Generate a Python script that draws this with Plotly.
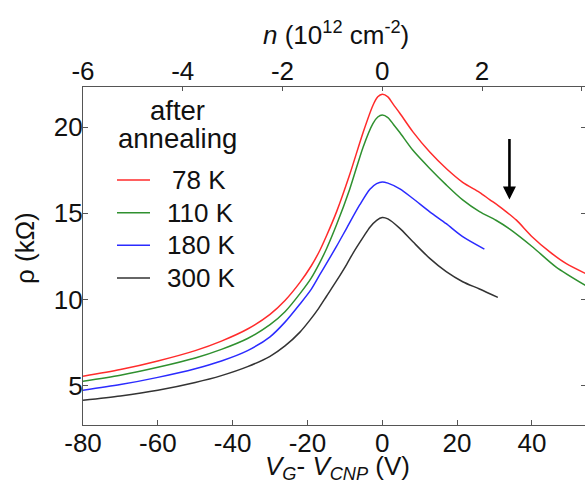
import plotly.graph_objects as go

# ---------------- data ----------------
V_78 = [-80, -70, -60, -50, -43, -36, -30, -26, -22, -19, -16.7, -14.9, -12.2, -8.7, -5.1, -2.5, -1.2, 0,
        1.5, 3, 4.7, 8.2, 12.7, 17.1, 21.5, 26, 28.7, 31, 33, 35.8, 40.2, 44.7, 49.1, 54.5]
R_78 = [5.56, 5.95, 6.45, 7.05, 7.6, 8.3, 9.15, 9.95, 11.0, 11.95, 12.85, 13.7, 15.1, 17.25, 19.7, 21.25, 21.75, 21.9,
        21.75, 21.3, 20.8, 19.72, 18.55, 17.6, 16.8, 16.22, 15.8, 15.45, 15.12, 14.62, 13.62, 12.78, 12.1, 11.5]

V_110 = [-80, -70, -60, -50, -43, -36, -30, -26, -22, -19, -16.7, -14.9, -12.2, -8.7, -5.1, -2.5, -1.2, 0,
         1.5, 3, 4.7, 8.2, 12.7, 17.1, 21.5, 26, 30.4, 34, 40.2, 46.4, 54.5]
R_110 = [5.27, 5.62, 6.08, 6.62, 7.12, 7.75, 8.55, 9.3, 10.35, 11.25, 12.15, 12.95, 14.35, 16.4, 18.85, 20.2, 20.58, 20.7,
         20.55, 20.15, 19.68, 18.65, 17.6, 16.65, 15.78, 15.1, 14.6, 14.1, 13.05, 11.9, 10.8]

V_180 = [-80, -70, -60, -50, -43, -36, -30, -26, -22, -19, -16.7, -14.9, -12.2, -9.5, -6, -3.3, -1.5, 0,
         1.5, 4.7, 8.2, 12.7, 17.1, 21.5, 27.3]
R_180 = [4.75, 5.08, 5.5, 6.0, 6.45, 7.05, 7.85, 8.7, 9.75, 10.6, 11.45, 12.1, 13.1, 14.15, 15.5, 16.4, 16.72, 16.82,
         16.75, 16.42, 15.86, 15.09, 14.4, 13.65, 12.93]

V_300 = [-80, -70, -60, -50, -43, -36, -30, -26, -22, -19.5, -17, -14.9, -12.2, -9.5, -7.8, -5, -3.3, -1.5, 0,
         1.5, 4.7, 8.2, 12.7, 17.1, 21.5, 26, 30.9]
R_300 = [4.17, 4.42, 4.75, 5.2, 5.6, 6.12, 6.72, 7.32, 8.12, 8.77, 9.5, 10.2, 11.1, 12.05, 12.7, 13.65, 14.2, 14.6, 14.76,
         14.68, 14.13, 13.35, 12.39, 11.62, 11.04, 10.62, 10.13]

SERIES_NAMES = ["78 K", "110 K", "180 K", "300 K"]
SERIES_COLORS = ["#ff2b2b", "#2f902f", "#2b2bff", "#333333"]
LEGEND_TITLE = ["after", "annealing"]

X_TICKS = [-80, -60, -40, -20, 0, 20, 40]
X_TICK_TEXT = ["-80", "-60", "-40", "-20", "0", "20", "40"]
N_TICKS = [-6, -4, -2, 0, 2, 4]
N_TICK_TEXT = ["-6", "-4", "-2", "0", "2", "4"]
Y_TICKS = [5, 10, 15, 20]
Y_TICK_TEXT = ["5", "10", "15", "20"]
X_RANGE = [-80, 54.2]
N_PER_V = 6 / 80          # n (1e12 cm^-2) per volt
Y_RANGE = [2.74, 22.32]

X_TITLE = "<i>V</i><sub><i>G</i></sub>- <i>V</i><sub><i>CNP</i></sub> (V)"
N_TITLE = "<i>n</i> (10<sup>12</sup> cm<sup>-2</sup>)"
Y_TITLE = "ρ (kΩ)"

ARROW_V = 34
ARROW_TOP = 19.4
ARROW_TIP = 15.8

FONT = "Arial, Liberation Sans, sans-serif"
AXC = "#555555"
TXT = "#111111"
FS = 26

# plot-area geometry (pixels) used to place the hand-made legend / titles
W, H = 585, 483
ML, MR, MT, MB = 83, 0, 87, 58
PW, PH = W - ML - MR, H - MT - MB


def px_x(px):
    return (px - ML) / PW


def px_y(py):
    return (H - MB - py) / PH


fig = go.Figure()
for V, R, name, col in zip([V_78, V_110, V_180, V_300], [R_78, R_110, R_180, R_300],
                           SERIES_NAMES, SERIES_COLORS):
    fig.add_trace(go.Scatter(x=V, y=R, mode="lines", name=name, showlegend=False,
                             line=dict(color=col, width=1.5, shape="spline", smoothing=0.8)))

# helper traces so the top / right axes exist
fig.add_trace(go.Scatter(x=[N_TICKS[0], N_TICKS[-1]], y=[None, None], xaxis="x2", yaxis="y",
                         showlegend=False, hoverinfo="skip"))
fig.add_trace(go.Scatter(x=[None], y=[None], xaxis="x", yaxis="y2",
                         showlegend=False, hoverinfo="skip"))

# arrow marking the shoulder
fig.add_annotation(x=ARROW_V, y=ARROW_TIP, ax=ARROW_V, ay=ARROW_TOP, xref="x", yref="y",
                   axref="x", ayref="y", showarrow=True, arrowhead=2, arrowwidth=2.6,
                   arrowsize=1.0, arrowcolor="#000000", text="")

# legend (title + entries)
fig.add_annotation(x=px_x(177), y=px_y(110), xref="paper", yref="paper", text=LEGEND_TITLE[0],
                   showarrow=False, font=dict(size=27.5, color=TXT, family=FONT),
                   xanchor="center", yanchor="middle")
fig.add_annotation(x=px_x(177), y=px_y(138), xref="paper", yref="paper", text=LEGEND_TITLE[1],
                   showarrow=False, font=dict(size=27.5, color=TXT, family=FONT),
                   xanchor="center", yanchor="middle")
row_y = [180, 212.7, 245.3, 278]
text_x = [170, 165, 165, 165]
for name, col, ry, tx in zip(SERIES_NAMES, SERIES_COLORS, row_y, text_x):
    fig.add_shape(type="line", xref="paper", yref="paper", x0=px_x(117), x1=px_x(150),
                  y0=px_y(ry), y1=px_y(ry), line=dict(color=col, width=1.5))
    fig.add_annotation(x=px_x(tx), y=px_y(ry), xref="paper", yref="paper", text=name,
                       showarrow=False, font=dict(size=FS, color=TXT, family=FONT),
                       xanchor="left", yanchor="middle")

# axis titles
fig.add_annotation(x=px_x(337), y=px_y(467), xref="paper", yref="paper", text=X_TITLE,
                   showarrow=False, font=dict(size=FS, color=TXT, family=FONT),
                   xanchor="center", yanchor="middle")
fig.add_annotation(x=px_x(336), y=px_y(34), xref="paper", yref="paper", text=N_TITLE,
                   showarrow=False, font=dict(size=FS, color=TXT, family=FONT),
                   xanchor="center", yanchor="middle")
fig.add_annotation(x=px_x(25), y=px_y(248), xref="paper", yref="paper", text=Y_TITLE,
                   showarrow=False, font=dict(size=FS, color=TXT, family=FONT), textangle=-90,
                   xanchor="center", yanchor="middle")

common = dict(showgrid=False, zeroline=False, automargin=False, tickcolor=AXC,
              tickfont=dict(size=FS, family=FONT, color=TXT))

fig.update_layout(
    width=W, height=H,
    margin=dict(l=ML, r=MR, t=MT, b=MB, autoexpand=False),
    paper_bgcolor="white", plot_bgcolor="white",
    font=dict(family=FONT, size=FS, color=TXT),
    showlegend=False,
    xaxis=dict(range=X_RANGE, tickvals=X_TICKS, ticktext=X_TICK_TEXT, ticks="inside", ticklen=5,
               showline=True, linecolor=AXC, linewidth=1.2, ticklabelstandoff=-5, **common),
    xaxis2=dict(range=[X_RANGE[0] * N_PER_V, X_RANGE[1] * N_PER_V], overlaying="x", side="top",
                tickvals=N_TICKS, ticktext=N_TICK_TEXT, ticks="inside", ticklen=4,
                showline=True, linecolor=AXC, linewidth=1.2, ticklabelstandoff=-4, **common),
    yaxis=dict(range=Y_RANGE, tickvals=Y_TICKS, ticktext=Y_TICK_TEXT, ticks="inside", ticklen=5,
               showline=True, linecolor=AXC, linewidth=1.2, ticklabelstandoff=-6, **common),
    yaxis2=dict(range=Y_RANGE, overlaying="y", side="right", tickvals=Y_TICKS, ticks="inside",
                ticklen=4, showline=False, showticklabels=False, showgrid=False,
                zeroline=False, automargin=False, tickcolor=AXC),
)

fig.write_html("out.html", config={"displayModeBar": False},
               post_script="document.body.style.margin='0';document.body.style.overflow='hidden';")
